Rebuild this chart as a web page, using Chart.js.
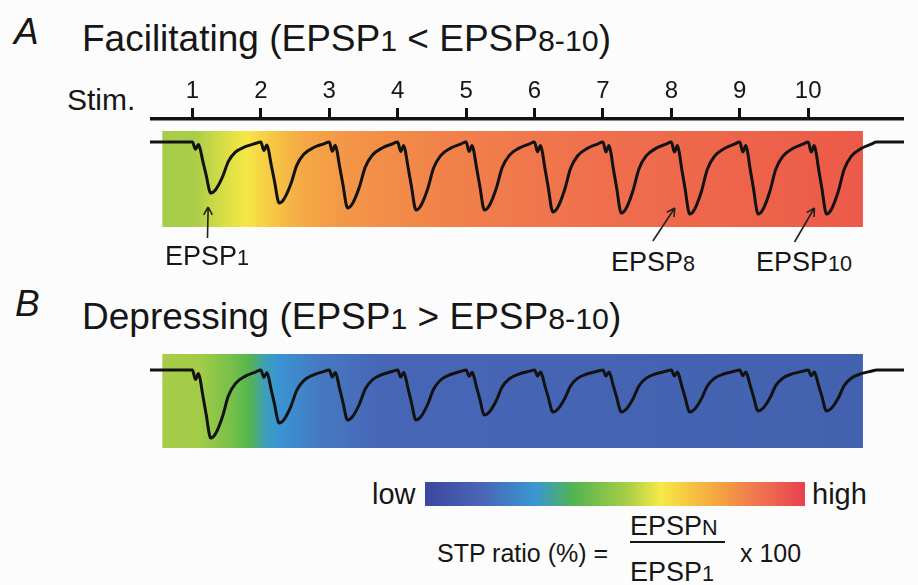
<!DOCTYPE html>
<html>
<head>
<meta charset="utf-8">
<title>Facilitating vs depressing EPSP trains</title>
<script src="https://cdn.jsdelivr.net/npm/chart.js@4.4.1/dist/chart.umd.min.js"></script>
<style>
  body { margin: 0; background: #fdfcfc; }
  #fig { position: relative; width: 918px; height: 585px; overflow: hidden;
         font-family: "Liberation Sans", Arial, sans-serif; color: #161616; }
  .txt { position: absolute; white-space: nowrap; line-height: 1; }
  .sub { font-size: 0.8em; }
  .tsub { font-size: 0.82em; }
  .ital { font-style: italic; }
  canvas { position: absolute; }
  #cbar { position: absolute; left: 425px; top: 482px; width: 380px; height: 24px; }
  #fracLine { position: absolute; left: 630px; top: 541px; width: 95px; border-top: 2px solid #161616; }
</style>
</head>
<body>
<div id="fig">
  <div class="txt ital" style="left:14px;top:13px;font-size:37px">A</div>
  <div class="txt" style="left:82px;top:20px;font-size:37px">Facilitating (EPSP<span class="tsub">1</span> &lt; EPSP<span class="tsub">8-10</span>)</div>
  <div class="txt" style="left:67px;top:85px;font-size:30px">Stim.</div>
  <canvas id="chartA" width="754" height="171" style="left:150px;top:74px"></canvas>
  <div class="txt" style="left:165px;top:243px;font-size:27px">EPSP<span class="sub">1</span></div>
  <div class="txt" style="left:611px;top:249px;font-size:27px">EPSP<span class="sub">8</span></div>
  <div class="txt" style="left:756px;top:249px;font-size:27px">EPSP<span class="sub">10</span></div>

  <div class="txt ital" style="left:15px;top:285px;font-size:37px">B</div>
  <div class="txt" style="left:82px;top:298px;font-size:37px">Depressing (EPSP<span class="tsub">1</span> &gt; EPSP<span class="tsub">8-10</span>)</div>
  <canvas id="chartB" width="754" height="120" style="left:150px;top:340px"></canvas>

  <div class="txt" style="left:372px;top:480px;font-size:29px">low</div>
  <div id="cbar"></div>
  <div class="txt" style="left:812px;top:480px;font-size:29px">high</div>

  <div class="txt" style="left:437px;top:541px;font-size:25px">STP ratio (%) =</div>
  <div class="txt" style="left:630px;top:513px;font-size:27px">EPSP<span class="sub">N</span></div>
  <div id="fracLine"></div>
  <div class="txt" style="left:630px;top:559px;font-size:27px">EPSP<span class="sub">1</span></div>
  <div class="txt" style="left:740px;top:541px;font-size:25px">x 100</div>
</div>

<script>
// ---------- Data ----------
const STIM_TIMES  = [0, 50, 100, 150, 200, 250, 300, 350, 400, 450];   // ms (20 Hz train)
const STIM_LABELS = ['1', '2', '3', '4', '5', '6', '7', '8', '9', '10'];

// trough depth of each EPSP (mV, downward deflection)
const EPSP_FACILITATING = [5.1, 6.1, 6.6, 6.8, 6.8, 7.0, 7.1, 7.2, 7.2, 7.2];
const EPSP_DEPRESSING   = [6.8, 5.3, 5.0, 5.0, 4.5, 4.2, 4.2, 4.2, 4.1, 4.1];

// one sweep: time after the stimulus (ms) and depth as a fraction of the trough
const SWEEP_T     = [0, 2.2, 4.4, 5.8, 7.3, 10.2, 12.4, 13.4, 16.8, 21.9, 26.3, 31.4, 38.7, 46];
const SWEEP_DEPTH = [0, 0.14, 0.05, 0.15, 0.34, 0.67, 0.95, 1.0, 0.94, 0.69, 0.38, 0.2, 0.09, 0.03];

const T_START = -31;
const T_END   = 520;

// STP colour scale (low -> high)
const CBAR_POS    = [0, 0.14, 0.29, 0.39, 0.53, 0.62, 0.70, 0.78, 0.87, 1];
const CBAR_COLORS = ['#3a47a0', '#4a63b3', '#3a96d2', '#52b450', '#a8cd48', '#f5ea48', '#f8c242', '#f4a042', '#f07850', '#e8404f'];

// background colour along each train (ms -> colour)
const BAND_FAC_T      = [-22, 2, 20, 39, 57, 79, 115, 181, 298, 490];
const BAND_FAC_COLORS = ['#a6cd49', '#aacd48', '#d2dc46', '#f5e846', '#f7c945', '#f5aa45', '#f39547', '#f1824a', '#ef6f4d', '#ec5a49'];
const BAND_DEP_T      = [-22, 6, 28, 42, 53, 64, 93, 137, 490];
const BAND_DEP_COLORS = ['#a7cd49', '#a2cb48', '#78c049', '#54b450', '#3f9fb8', '#3a93d2', '#4679c2', '#4767b6', '#4262b0'];

// arrows pointing at EPSP1, EPSP8, EPSP10 (tail -> head, ms / mV)
const ARROW_TAIL = [[11, -9.6], [336.5, -9.9], [440, -10.0]];
const ARROW_HEAD = [[11.5, -6.5], [352.5, -6.6], [454.5, -6.6]];

const FONT = '"Liberation Sans", Arial, sans-serif';
const INK  = '#121212';

// ---------- Build traces ----------
function buildTrace(amps) {
  const pts = [{ x: T_START, y: 0 }];
  STIM_TIMES.forEach((t0, k) => {
    SWEEP_T.forEach((dt, j) => pts.push({ x: t0 + dt, y: -amps[k] * SWEEP_DEPTH[j] }));
  });
  const last = STIM_TIMES[STIM_TIMES.length - 1];
  pts.push({ x: last + 50, y: 0 }, { x: T_END, y: 0 });
  return pts;
}

// ---------- Plugins ----------
function bandPlugin(t0, t1, top, bottom, stops, colors) {
  return {
    id: 'band',
    beforeDatasetsDraw(chart) {
      const { ctx, scales: { x, y } } = chart;
      const x0 = x.getPixelForValue(t0), x1 = x.getPixelForValue(t1);
      const y0 = y.getPixelForValue(top), y1 = y.getPixelForValue(bottom);
      const g = ctx.createLinearGradient(x0, 0, x1, 0);
      stops.forEach((t, i) => g.addColorStop((t - t0) / (t1 - t0), colors[i]));
      ctx.save();
      ctx.fillStyle = g;
      ctx.fillRect(x0, y0, x1 - x0, y1 - y0);
      ctx.restore();
    }
  };
}

const arrowPlugin = {
  id: 'arrows',
  afterDatasetsDraw(chart) {
    const { ctx, scales: { x, y } } = chart;
    ctx.save();
    ctx.strokeStyle = '#222';
    ctx.lineWidth = 1.6;
    ARROW_HEAD.forEach((h, i) => {
      const tx = x.getPixelForValue(ARROW_TAIL[i][0]), ty = y.getPixelForValue(ARROW_TAIL[i][1]);
      const hx = x.getPixelForValue(h[0]), hy = y.getPixelForValue(h[1]);
      const ang = Math.atan2(hy - ty, hx - tx);
      ctx.beginPath();
      ctx.moveTo(tx, ty);
      ctx.lineTo(hx, hy);
      [-0.5, 0.5].forEach(d => {
        ctx.moveTo(hx, hy);
        ctx.lineTo(hx - 9 * Math.cos(ang + d), hy - 9 * Math.sin(ang + d));
      });
      ctx.stroke();
    });
    ctx.restore();
  }
};

function traceDataset(amps) {
  return {
    data: buildTrace(amps),
    borderColor: INK,
    borderWidth: 3,
    pointRadius: 0,
    cubicInterpolationMode: 'monotone',
    fill: false
  };
}

const common = {
  responsive: false,
  animation: false,
  devicePixelRatio: 1,
  layout: { padding: 0 },
  plugins: { legend: { display: false }, tooltip: { enabled: false } }
};

// ---------- Panel A ----------
new Chart(document.getElementById('chartA'), {
  type: 'line',
  data: { datasets: [traceDataset(EPSP_FACILITATING)] },
  options: {
    ...common,
    scales: {
      x: {
        type: 'linear', position: 'top', min: T_START, max: T_END,
        afterBuildTicks: s => { s.ticks = STIM_TIMES.map(v => ({ value: v })); },
        afterFit: s => { s.height = 45; },
        ticks: {
          callback: (v, i) => STIM_LABELS[i],
          font: { family: FONT, size: 24 }, color: '#161616',
          padding: 2, maxRotation: 0, autoSkip: false
        },
        grid: { drawOnChartArea: false, drawTicks: true, tickLength: 11, lineWidth: 3, color: INK },
        border: { display: true, width: 3.5, color: INK }
      },
      y: { display: false, min: -10.3, max: 2.3 }
    }
  },
  plugins: [bandPlugin(-22, 490, 1.1, -8.5, BAND_FAC_T, BAND_FAC_COLORS), arrowPlugin]
});

// ---------- Panel B ----------
new Chart(document.getElementById('chartB'), {
  type: 'line',
  data: { datasets: [traceDataset(EPSP_DEPRESSING)] },
  options: {
    ...common,
    scales: {
      x: { type: 'linear', display: false, min: T_START, max: T_END },
      y: { display: false, min: -9.0, max: 3.0 }
    }
  },
  plugins: [bandPlugin(-22, 490, 1.6, -7.8, BAND_DEP_T, BAND_DEP_COLORS)]
});

// ---------- Colour bar ----------
document.getElementById('cbar').style.background =
  'linear-gradient(to right, ' + CBAR_COLORS.map((c, i) => `${c} ${CBAR_POS[i] * 100}%`).join(', ') + ')';
</script>
</body>
</html>
